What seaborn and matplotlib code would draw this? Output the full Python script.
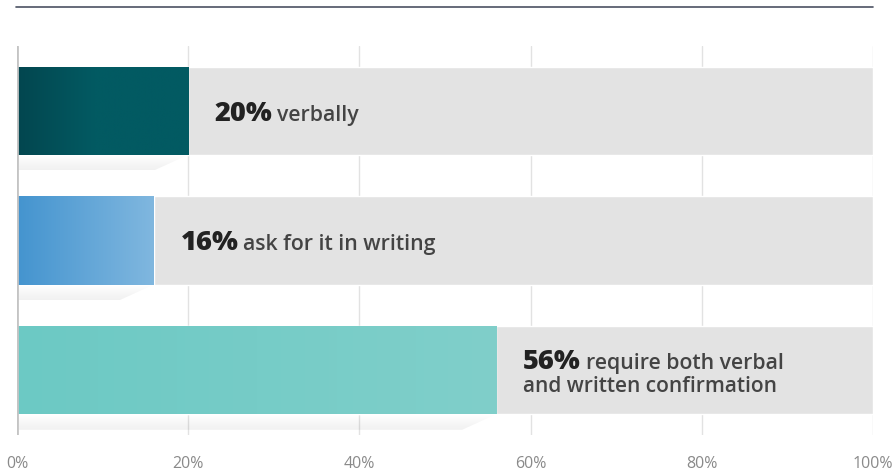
import numpy as np
import pandas as pd
import matplotlib
matplotlib.use("Agg")
import matplotlib.pyplot as plt
import seaborn as sns
from matplotlib.colors import LinearSegmentedColormap
from matplotlib.lines import Line2D
from matplotlib.patches import Polygon

# ---- data ----
categories = ["verbally", "ask for it in writing", "require both verbal and written confirmation"]
values = [20, 16, 56]
number_labels = ["20%", "16%", "56%"]
desc_lines = [["verbally"], ["ask for it in writing"], ["require both verbal", "and written confirmation"]]
tick_values = [0, 20, 40, 60, 80, 100]
tick_labels = ["0%", "20%", "40%", "60%", "80%", "100%"]
gradients = [("#03464f", "#025a62", 0.45), ("#4494cf", "#80b7df", 1.0), ("#6cc9c4", "#80cfca", 1.0)]

sns.set_theme(style="white")
plt.rcParams["font.family"] = ["Open Sans", "DejaVu Sans"]

W, H, DPI = 895, 473, 100
fig = plt.figure(figsize=(W / DPI, H / DPI), dpi=DPI)
ax = fig.add_axes([17 / W, (H - 435) / H, 856 / W, 389 / H])

df = pd.DataFrame({"cat": categories, "value": values, "full": [100] * len(values)})

sns.barplot(data=df, x="full", y="cat", orient="h", color="#e3e3e3", width=0.68,
            saturation=1, ax=ax, zorder=2)
n_bg = len(ax.patches)
sns.barplot(data=df, x="value", y="cat", orient="h", color="#777777", width=0.68,
            saturation=1, ax=ax, zorder=3)
fg_patches = ax.patches[n_bg:]

ax.set_xlim(0, 100)
ax.set_ylim(2.5, -0.5)

# gradient fills + folded shadow
for p, (c0, c1, stop) in zip(fg_patches, gradients):
    x0, y0 = p.get_x(), p.get_y()
    w, h = p.get_width(), p.get_height()
    cmap = LinearSegmentedColormap.from_list("g", [(0, c0), (stop, c1), (1, c1)])
    grad = np.linspace(0, 1, 256).reshape(1, -1)
    im = ax.imshow(grad, cmap=cmap, aspect="auto", extent=(x0, x0 + w, y0 + h, y0),
                   zorder=4, interpolation="bilinear")
    im.set_clip_path(p)
    p.set_facecolor("none")
    # shadow: fading downward
    sh = 0.12
    poly = Polygon([[x0, y0 + h], [x0 + w, y0 + h], [x0 + w - 4.0, y0 + h + sh], [x0, y0 + h + sh]],
                   closed=True, facecolor="none", edgecolor="none", transform=ax.transData)
    ax.add_patch(poly)
    alpha_grad = np.linspace(1, 0, 64).reshape(-1, 1) * np.ones((1, 8))
    rgba = np.zeros((64, 8, 4))
    rgba[..., 3] = 0.06 * alpha_grad
    sim = ax.imshow(rgba, aspect="auto", extent=(x0, x0 + w, y0 + h + sh, y0 + h),
                    zorder=1.5, interpolation="bilinear", origin="lower")
    sim.set_clip_path(poly)

ax.set_xlim(0, 100)
ax.set_ylim(2.5, -0.5)

# grid
for t in tick_values[1:]:
    ax.axvline(t, color="#e2e2e2", lw=1.0, zorder=1)
ax.axvline(0, color="#c4c4c4", lw=2, zorder=5)

for s in ax.spines.values():
    s.set_visible(False)
ax.set_yticks([])
ax.set_ylabel("")
ax.set_xlabel("")
ax.set_xticks(tick_values)
ax.set_xticklabels(tick_labels, fontsize=11.5, color="#8a8a8a")
ax.tick_params(axis="x", length=0, pad=15)

# labels
fig.canvas.draw()
renderer = fig.canvas.get_renderer()
base_offsets = [0.077, 0.077, -0.01]
for i, (v, num, lines) in enumerate(zip(values, number_labels, desc_lines)):
    x = v + 3.1
    y = i + base_offsets[i]
    t = ax.text(x, y, num, fontsize=19.6, fontweight="heavy", color="#222222",
                va="baseline", ha="left", zorder=6)
    bb = t.get_window_extent(renderer)
    wpt = bb.width * 72 / DPI
    ax.annotate(lines[0], xy=(x, y), xycoords="data", xytext=(wpt + 3.5, 0),
                textcoords="offset points", fontsize=15.3, fontweight="semibold",
                color="#444444", va="baseline", ha="left", zorder=6)
    if len(lines) > 1:
        ax.text(x, y + 0.177, lines[1], fontsize=15.0, fontweight="semibold",
                color="#444444", va="baseline", ha="left", zorder=6)

# top rule
fig.add_artist(Line2D([16 / W, 873 / W], [1 - 7.5 / H, 1 - 7.5 / H],
                      color="#4b5262", lw=1.2, transform=fig.transFigure))

fig.savefig("out.png", dpi=DPI)
